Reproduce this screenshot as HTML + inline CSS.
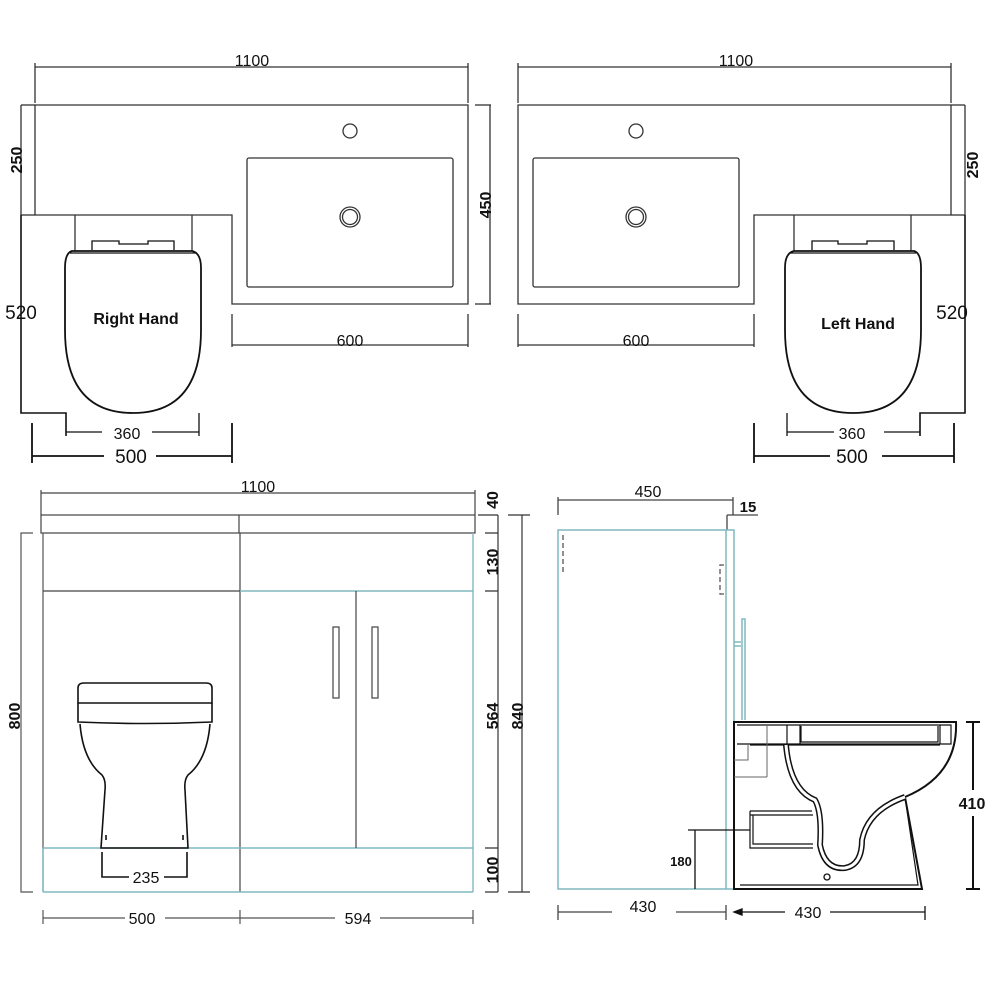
<!DOCTYPE html>
<html><head><meta charset="utf-8"><style>
html,body{margin:0;padding:0;background:#fff;}
svg{display:block;}
text{font-family:"Liberation Sans",sans-serif;fill:#111;}
</style></head><body>
<svg width="1001" height="1001" viewBox="0 0 1001 1001" xmlns="http://www.w3.org/2000/svg">
<defs>
<g id="plan" fill="none" stroke="#333" stroke-width="1.3">
  <line x1="35" y1="67" x2="468" y2="67"/>
  <line x1="35" y1="63" x2="35" y2="103"/>
  <line x1="468" y1="63" x2="468" y2="103"/>
  <path d="M35 105 H468 V304 H232 V215 H35 Z"/>
  <line x1="21" y1="105" x2="35" y2="105"/>
  <line x1="21" y1="105" x2="21" y2="215"/>
  <line x1="21" y1="215" x2="35" y2="215"/>
  <path d="M21 215 V413 H66 V436" stroke="#111" stroke-width="1.6"/>
  <rect x="247" y="158" width="206" height="129" rx="2"/>
  <circle cx="350" cy="131" r="7"/>
  <circle cx="350" cy="217" r="10"/>
  <circle cx="350" cy="217" r="7.5"/>
  <line x1="75" y1="215" x2="75" y2="251"/>
  <line x1="192" y1="215" x2="192" y2="251"/>
  <path d="M92 250 V241 H119 V244 H148 V241 H174 V250" stroke="#111"/>
  <path d="M72 251 H192 Q201 253 201 268 V330 Q201 413 133 413 Q65 413 65 330 V268 Q65 253 72 251 Z" stroke="#111" stroke-width="1.8"/>
  <line x1="70" y1="253" x2="196" y2="253" stroke="#111"/>
  <line x1="475" y1="105" x2="491" y2="105"/>
  <line x1="490" y1="105" x2="490" y2="304"/>
  <line x1="475" y1="304" x2="491" y2="304"/>
  <line x1="232" y1="314" x2="232" y2="347"/>
  <line x1="468" y1="314" x2="468" y2="347"/>
  <line x1="232" y1="345" x2="468" y2="345"/>
  <path d="M66 432 H102 M152 432 H199 M199 413 V436" stroke="#111"/>
  <path d="M32 456 H104 M156 456 H232 M32 423 V463 M232 423 V463" stroke="#111" stroke-width="1.8"/>
</g>
</defs>

<use href="#plan"/>
<g transform="translate(986,0) scale(-1,1)"><use href="#plan"/></g>
<rect x="494" y="98" width="22" height="214" fill="#fff"/>

<text x="252" y="66" font-size="16" text-anchor="middle">1100</text>
<text x="736" y="66" font-size="16" text-anchor="middle">1100</text>
<text transform="translate(22,160) rotate(-90)" font-size="16" font-weight="bold" text-anchor="middle">250</text>
<text transform="translate(978,165) rotate(-90)" font-size="16" font-weight="bold" text-anchor="middle">250</text>
<text transform="translate(491,205) rotate(-90)" font-size="16" font-weight="bold" text-anchor="middle">450</text>
<text x="21" y="319" font-size="19" text-anchor="middle">520</text>
<text x="952" y="319" font-size="19" text-anchor="middle">520</text>
<text x="136" y="324" font-size="16" font-weight="bold" text-anchor="middle">Right Hand</text>
<text x="858" y="329" font-size="16" font-weight="bold" text-anchor="middle">Left Hand</text>
<text x="350" y="346" font-size="16" text-anchor="middle">600</text>
<text x="636" y="346" font-size="16" text-anchor="middle">600</text>
<text x="127" y="439" font-size="16" fill="#444" text-anchor="middle">360</text>
<text x="852" y="439" font-size="16" fill="#444" text-anchor="middle">360</text>
<text x="131" y="463" font-size="19" text-anchor="middle">500</text>
<text x="852" y="463" font-size="19" text-anchor="middle">500</text>

<g fill="none" stroke="#444" stroke-width="1.2">
  <line x1="41" y1="493" x2="475" y2="493"/>
  <line x1="41" y1="490" x2="41" y2="515"/>
  <line x1="475" y1="490" x2="475" y2="515"/>
  <rect x="41" y="515" width="434" height="18"/>
  <line x1="239" y1="515" x2="239" y2="533"/>
  <path d="M43 533 V892" stroke="#555"/>
  <path d="M240 533 V892"/>
  <path d="M43 591 H240"/>
  <g stroke="#7fb8c0" stroke-width="1.4">
    <path d="M240 591 H473 M473 533 V892 M43 848 H473 M43 892 H473 M43 848 V892"/>
  </g>
  <line x1="356" y1="591" x2="356" y2="848"/>
  <rect x="333" y="627" width="6" height="71"/>
  <rect x="372" y="627" width="6" height="71"/>
  <g stroke="#111" stroke-width="1.6">
    <path d="M78 688 Q78 683 84 683 H206 Q212 683 212 688 V703 H78 Z"/>
    <path d="M78 703 V722 Q145 725 212 722 V703"/>
    <path d="M80 724 Q83 760 102 775 Q106 780 105 790 L101 848 H188 L185 790 Q184 780 188 775 Q207 760 210 724"/>
    <line x1="106" y1="835" x2="106" y2="840"/>
    <line x1="183" y1="835" x2="183" y2="840"/>
    <path d="M102 852 V877 H129 M164 877 H187 V852"/>
  </g>
  <path d="M498 515 V892 M485 533 H498 M485 591 H498 M485 848 H498 M485 892 H498 M478 515 H498" stroke="#333"/>
  <path d="M522 515 V892 M508 515 H530 M508 892 H530" stroke="#333"/>
  <path d="M33 533 H21 V892 H33" stroke="#555"/>
  <path d="M43 910 V924 M240 910 V924 M473 910 V924 M43 918 H473" stroke="#555"/>
</g>
<text x="258" y="492" font-size="16" text-anchor="middle">1100</text>
<text transform="translate(498,500) rotate(-90)" font-size="16" font-weight="bold" text-anchor="middle">40</text>
<text transform="translate(498,562) rotate(-90)" font-size="16" font-weight="bold" text-anchor="middle">130</text>
<text transform="translate(498,716) rotate(-90)" font-size="16" font-weight="bold" text-anchor="middle">564</text>
<text transform="translate(498,870) rotate(-90)" font-size="16" font-weight="bold" text-anchor="middle">100</text>
<text transform="translate(523,716) rotate(-90)" font-size="16" font-weight="bold" text-anchor="middle">840</text>
<text transform="translate(20,716) rotate(-90)" font-size="16" font-weight="bold" text-anchor="middle">800</text>
<text x="146" y="883" font-size="16" fill="#444" text-anchor="middle">235</text>
<rect x="125" y="910" width="40" height="16" fill="#fff"/>
<rect x="335" y="910" width="45" height="16" fill="#fff"/>
<text x="142" y="924" font-size="16" text-anchor="middle">500</text>
<text x="358" y="924" font-size="16" text-anchor="middle">594</text>

<g fill="none" stroke-width="1.3">
  <path d="M558 500 H733 M558 497 V515 M733 497 V515" stroke="#444"/>
  <path d="M727 515 H758 M727 515 V530" stroke="#444"/>
  <g stroke="#7fb8c0" stroke-width="1.5">
    <rect x="558" y="530" width="176" height="359"/>
    <line x1="726" y1="530" x2="726" y2="889"/>
    <path d="M742 720 V619 H745 V720"/>
    <path d="M734 642 H741 M734 646 H741"/>
  </g>
  <path d="M563 535 V572 H561" stroke="#555" stroke-dasharray="5,3"/>
  <path d="M724 565 H720 V594 H726" stroke="#555" stroke-dasharray="5,3"/>
  <g stroke="#111" stroke-width="2">
    <path d="M734 722 H956 Q958 775 905 797 L922 889 H734 Z"/>
    <path d="M905 797 L918 885 H740" stroke-width="1.2"/>
    <path d="M737 725 H951 V744 H737" stroke-width="1.2"/>
    <path d="M787 725 V744 M800 725 V744 M801 726 V742 H938 V726 M940 725 V744" stroke-width="1.2"/>
    <path d="M750 745 H940" stroke-width="1.2"/>
  </g>
  <path d="M786 745 Q790 790 815 800 Q822 812 820 845 Q825 870 845 868 Q862 865 862 840 Q868 810 905 797" stroke="#111" stroke-width="6"/>
  <path d="M786 745 Q790 790 815 800 Q822 812 820 845 Q825 870 845 868 Q862 865 862 840 Q868 810 905 797" stroke="#fff" stroke-width="3"/>
  <path d="M750 811 H812 M750 811 V848 H813 M750 815 H813 M753 815 V844 H813" stroke="#111" stroke-width="1.2"/>
  <path d="M734 777 H767 M767 725 V777 M734 760 H748 V745" stroke="#666" stroke-width="1"/>
  <circle cx="827" cy="877" r="3" stroke="#111"/>
  <path d="M966 722 H980 M973 722 V790 M973 816 V889 M966 889 H980" stroke="#111" stroke-width="2"/>
  <path d="M688 830 H750 M695 830 V889" stroke="#111"/>
  <path d="M558 905 V920 M726 905 V920 M558 912 H612 M676 912 H726" stroke="#444"/>
  <path d="M738 912 H785 M830 912 H925 M925 906 V920" stroke="#111"/>
  <path d="M734 912 L742 909 L742 915 Z" fill="#111" stroke="#111"/>
</g>
<text x="648" y="497" font-size="16" text-anchor="middle">450</text>
<text x="748" y="512" font-size="15" font-weight="bold" text-anchor="middle">15</text>
<text x="972" y="809" font-size="16" font-weight="bold" text-anchor="middle">410</text>
<text x="681" y="866" font-size="13" font-weight="bold" text-anchor="middle">180</text>
<text x="643" y="912" font-size="16" text-anchor="middle">430</text>
<text x="808" y="918" font-size="16" text-anchor="middle">430</text>
</svg>
</body></html>
